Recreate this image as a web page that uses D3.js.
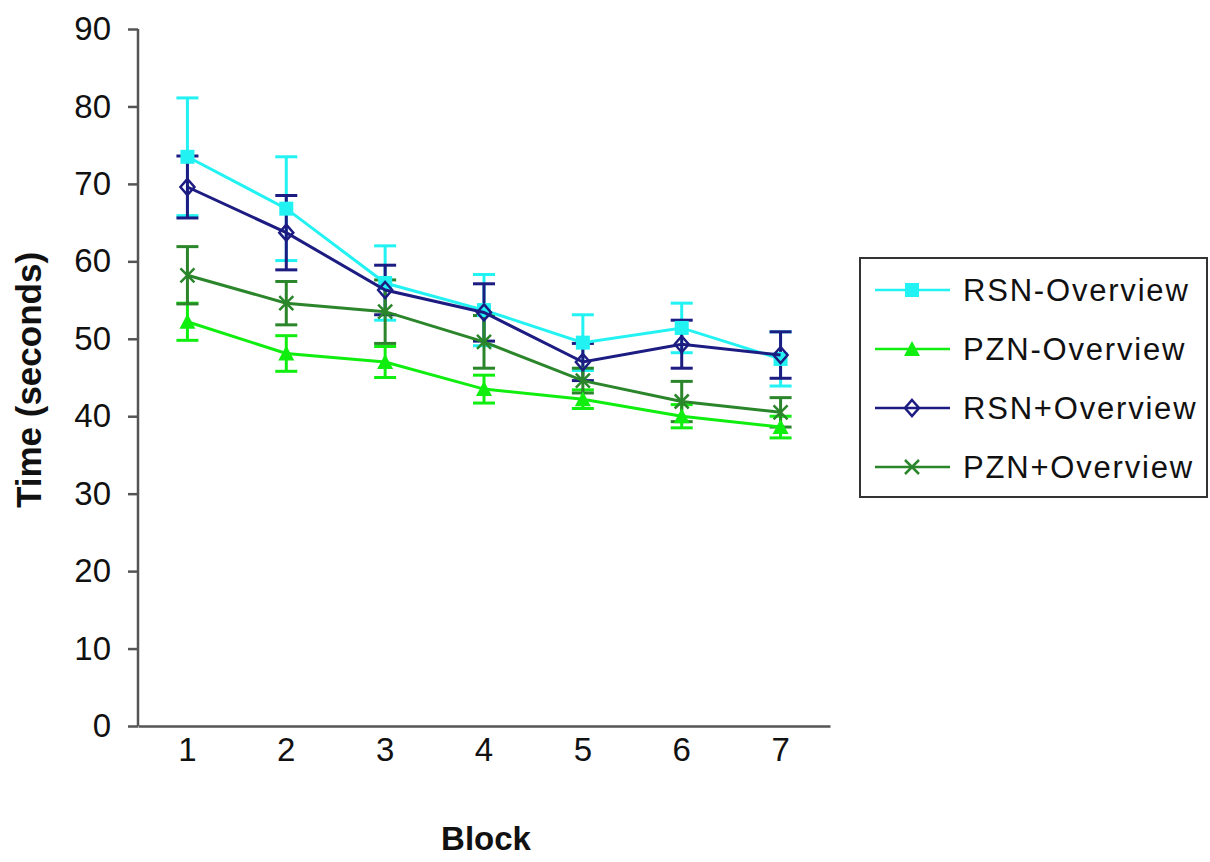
<!DOCTYPE html>
<html>
<head>
<meta charset="utf-8">
<script src="https://cdn.jsdelivr.net/npm/d3@7"></script>
<style>
  body { margin: 0; background: #fff; }
  svg text { font-family: "Liberation Sans", Arial, sans-serif; fill: #111; }
</style>
</head>
<body>
<div id="container"></div>
<script>
const width = 1210, height = 862;

// data
const blocks = [1, 2, 3, 4, 5, 6, 7];
const yTicks = [0, 10, 20, 30, 40, 50, 60, 70, 80, 90];

const rsnNoMean = [73.5, 66.8, 57.2, 53.7, 49.5, 51.4, 47.4];
const rsnNoErr  = [7.6, 6.7, 4.8, 4.6, 3.6, 3.2, 3.5];
const pznNoMean = [52.2, 48.1, 47.0, 43.5, 42.2, 40.0, 38.6];
const pznNoErr  = [2.4, 2.3, 2.0, 1.8, 1.2, 1.5, 1.4];
const rsnOMean  = [69.6, 63.7, 56.3, 53.4, 47.0, 49.3, 47.9];
const rsnOErr   = [4.0, 4.8, 3.2, 3.7, 2.4, 3.1, 3.0];
const pznOMean  = [58.2, 54.6, 53.5, 49.6, 44.6, 41.9, 40.5];
const pznOErr   = [3.7, 2.8, 4.1, 3.4, 1.6, 2.6, 1.9];

const seriesNames = ["RSN-Overview", "PZN-Overview", "RSN+Overview", "PZN+Overview"];

const series = [
    { name: seriesNames[0], mean: rsnNoMean, err: rsnNoErr, color: "#22f2f2", marker: "square" },
    { name: seriesNames[1], mean: pznNoMean, err: pznNoErr, color: "#10ee10", marker: "triangle" },
    { name: seriesNames[2], mean: rsnOMean,  err: rsnOErr,  color: "#1c1c82", marker: "diamond" },
    { name: seriesNames[3], mean: pznOMean,  err: pznOErr,  color: "#2b862b", marker: "x" }
];

const svg = d3.select("#container")
    .append("svg")
    .attr("width", width)
    .attr("height", height);

const x = d3.scaleBand()
    .domain(blocks)
    .range([138, 830]);

const cx = d => x(d) + x.bandwidth() / 2;

const y = d3.scaleLinear()
    .domain([0, 90])
    .range([726, 29]);

// y axis
const yAxis = svg.append("g")
    .attr("transform", "translate(138,0)")
    .call(d3.axisLeft(y).tickValues(yTicks).tickSize(10).tickPadding(17));
yAxis.selectAll("text").style("font-size", "33px");
yAxis.selectAll("line, path").attr("stroke", "#555").attr("stroke-width", 2.5);
yAxis.select(".domain").attr("d", "M0,29V726");

// x axis
const xAxis = svg.append("g")
    .attr("transform", "translate(0,726)")
    .call(d3.axisBottom(x).tickSize(0).tickPadding(12));
xAxis.selectAll("text").style("font-size", "33px");
xAxis.select(".domain").attr("stroke", "#555").attr("stroke-width", 2.5);

// axis titles
svg.append("text")
    .attr("transform", "translate(41,380) rotate(-90)")
    .attr("text-anchor", "middle")
    .style("font-size", "35px")
    .style("font-weight", "bold")
    .text("Time (seconds)");

svg.append("text")
    .attr("x", 486)
    .attr("y", 850)
    .attr("text-anchor", "middle")
    .style("font-size", "33px")
    .style("font-weight", "bold")
    .text("Block");

// marker drawing
function drawMarker(g, type, color) {
    const s = 7;
    if (type === "square") {
        g.append("rect").attr("x", -s).attr("y", -s).attr("width", 2 * s).attr("height", 2 * s)
            .attr("fill", color);
    } else if (type === "triangle") {
        g.append("path").attr("d", `M0,${-s - 1}L${s + 1},${s}L${-s - 1},${s}Z`).attr("fill", color);
    } else if (type === "diamond") {
        g.append("path").attr("d", `M0,${-s - 1}L${s},0L0,${s + 1}L${-s},0Z`)
            .attr("fill", "none").attr("stroke", color).attr("stroke-width", 2.5);
    } else if (type === "x") {
        g.append("path").attr("d", `M${-s},${-s}L${s},${s}M${s},${-s}L${-s},${s}`)
            .attr("stroke", color).attr("stroke-width", 2.5);
    }
}

// error bars first
const capW = 11;
series.forEach(s => {
    const eb = svg.append("g").attr("class", "errbars")
        .attr("stroke", s.color).attr("stroke-width", 3).attr("fill", "none");
    blocks.forEach((b, i) => {
        const px = cx(b), hi = y(s.mean[i] + s.err[i]), lo = y(s.mean[i] - s.err[i]);
        eb.append("line").attr("x1", px).attr("x2", px).attr("y1", hi).attr("y2", lo);
        eb.append("line").attr("x1", px - capW).attr("x2", px + capW).attr("y1", hi).attr("y2", hi);
        eb.append("line").attr("x1", px - capW).attr("x2", px + capW).attr("y1", lo).attr("y2", lo);
    });
});

// lines and markers
const line = d3.line()
    .x((d, i) => cx(blocks[i]))
    .y(d => y(d));

series.forEach(s => {
    svg.append("path")
        .attr("d", line(s.mean))
        .attr("fill", "none")
        .attr("stroke", s.color)
        .attr("stroke-width", 3);
    s.mean.forEach((v, i) => {
        const g = svg.append("g").attr("transform", `translate(${cx(blocks[i])},${y(v)})`);
        drawMarker(g, s.marker, s.color);
    });
});

// legend
const legend = svg.append("g");
legend.append("rect")
    .attr("x", 860).attr("y", 258).attr("width", 347).attr("height", 239)
    .attr("fill", "#fff").attr("stroke", "#333").attr("stroke-width", 2);

series.forEach((s, i) => {
    const ry = 290 + i * 59;
    const row = legend.append("g");
    row.append("line")
        .attr("x1", 875).attr("x2", 950).attr("y1", ry).attr("y2", ry)
        .attr("stroke", s.color).attr("stroke-width", 2.5);
    drawMarker(row.append("g").attr("transform", `translate(912,${ry})`), s.marker, s.color);
    row.append("text")
        .attr("x", 963).attr("y", ry + 11)
        .style("font-size", "31px")
        .style("letter-spacing", "1.8px")
        .text(s.name);
});
</script>
</body>
</html>
